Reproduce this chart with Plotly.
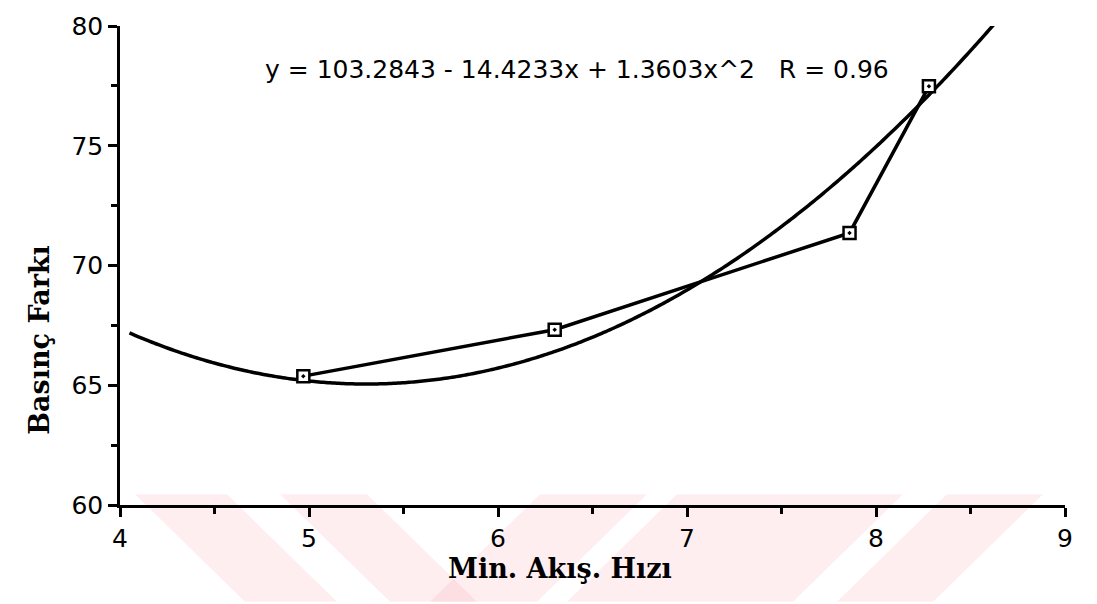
import numpy as np
import plotly.graph_objects as go

# Measured points
akis_hizi = [4.97, 6.30, 7.86, 8.28]
basinc_farki = [65.38, 67.32, 71.36, 77.48]

# Quadratic fit coefficients (y = a + b*x + c*x^2)
fit_a, fit_b, fit_c = 103.2843, -14.4233, 1.3603
fit_r = 0.96
fit_x_start, fit_x_end = 4.05, 8.80

x_ticks = [4, 5, 6, 7, 8, 9]
y_ticks = [60, 65, 70, 75, 80]

W, H = 1097, 604
ML, MR, MT, MB = 120, 32, 15, 99

fx = np.linspace(fit_x_start, fit_x_end, 200)
fy = fit_a + fit_b * fx + fit_c * fx ** 2

fig = go.Figure()

fig.add_trace(go.Scatter(
    x=fx, y=fy, mode="lines",
    line=dict(color="black", width=3.5, shape="spline"),
    hoverinfo="skip", showlegend=False,
))
fig.add_trace(go.Scatter(
    x=akis_hizi, y=basinc_farki, mode="lines+markers",
    line=dict(color="black", width=3.5),
    marker=dict(symbol="square-dot", size=12, color="white",
                line=dict(color="black", width=2.5)),
    showlegend=False, cliponaxis=False,
))

eq_text = (f"y = {fit_a:.4f} - {abs(fit_b):.4f}x + {fit_c:.4f}x^2"
           f"   R = {fit_r:.2f}")

# Faint diagonal background bands along the bottom of the page
def px(x):
    return (x - ML) / (W - ML - MR)

def py(y):
    return (H - MB - y) / (H - MT - MB)

band_color = "rgba(245,120,140,0.13)"
top_y, bot_y = 494, 604
drop = bot_y - top_y
bands_down = [(135, 227), (280, 367)]
bands_up = [(540, 647), (677, 903), (947, 1043)]
shapes = []
for x0, x1 in bands_down:
    path = (f"M {px(x0)} {py(top_y)} L {px(x1)} {py(top_y)} "
            f"L {px(x1 + drop)} {py(bot_y)} L {px(x0 + drop)} {py(bot_y)} Z")
    shapes.append(dict(type="path", path=path, xref="paper", yref="paper",
                       fillcolor=band_color, line=dict(width=0), layer="below"))
for x0, x1 in bands_up:
    path = (f"M {px(x0)} {py(top_y)} L {px(x1)} {py(top_y)} "
            f"L {px(x1 - drop)} {py(bot_y)} L {px(x0 - drop)} {py(bot_y)} Z")
    shapes.append(dict(type="path", path=path, xref="paper", yref="paper",
                       fillcolor=band_color, line=dict(width=0), layer="below"))

sans = "DejaVu Sans, Verdana, sans-serif"
tick_font = dict(family=sans, size=25, color="black")
title_font = dict(family="DejaVu Serif, Liberation Serif, serif", size=27,
                  color="black")

fig.update_layout(
    width=W, height=H,
    margin=dict(l=ML, r=MR, t=MT, b=MB),
    paper_bgcolor="white", plot_bgcolor="rgba(0,0,0,0)",
    shapes=shapes,
    xaxis=dict(
        range=[4, 9], tickvals=x_ticks, ticktext=[str(v) for v in x_ticks],
        showgrid=False, zeroline=False,
        showline=True, linecolor="black", linewidth=2.5,
        ticks="outside", ticklen=9, tickwidth=2.5, tickcolor="black",
        tickfont=tick_font,
        minor=dict(dtick=0.5, tick0=4, ticks="outside", ticklen=6,
                   tickwidth=2.5, tickcolor="black", showgrid=False),
    ),
    yaxis=dict(
        range=[60, 80], tickvals=y_ticks, ticktext=[str(v) for v in y_ticks],
        showgrid=False, zeroline=False,
        showline=True, linecolor="black", linewidth=2.5,
        ticks="outside", ticklen=9, tickwidth=2.5, tickcolor="black",
        tickfont=tick_font,
        minor=dict(dtick=2.5, tick0=60, ticks="outside", ticklen=6,
                   tickwidth=2.5, tickcolor="black", showgrid=False),
    ),
    annotations=[
        dict(text=eq_text, x=px(577), y=py(60), xref="paper", yref="paper",
             showarrow=False, xanchor="center", yanchor="middle",
             font=dict(family=sans, size=25, color="black")),
        dict(text="<b>Min. Akış. Hızı</b>", x=px(560), y=py(570),
             xref="paper", yref="paper", showarrow=False,
             xanchor="center", yanchor="middle", font=title_font),
        dict(text="<b>Basınç Farkı</b>", x=px(40), y=py(336),
             xref="paper", yref="paper", showarrow=False, textangle=-90,
             xanchor="center", yanchor="middle", font=title_font),
    ],
)

fig.write_html("out.html")
